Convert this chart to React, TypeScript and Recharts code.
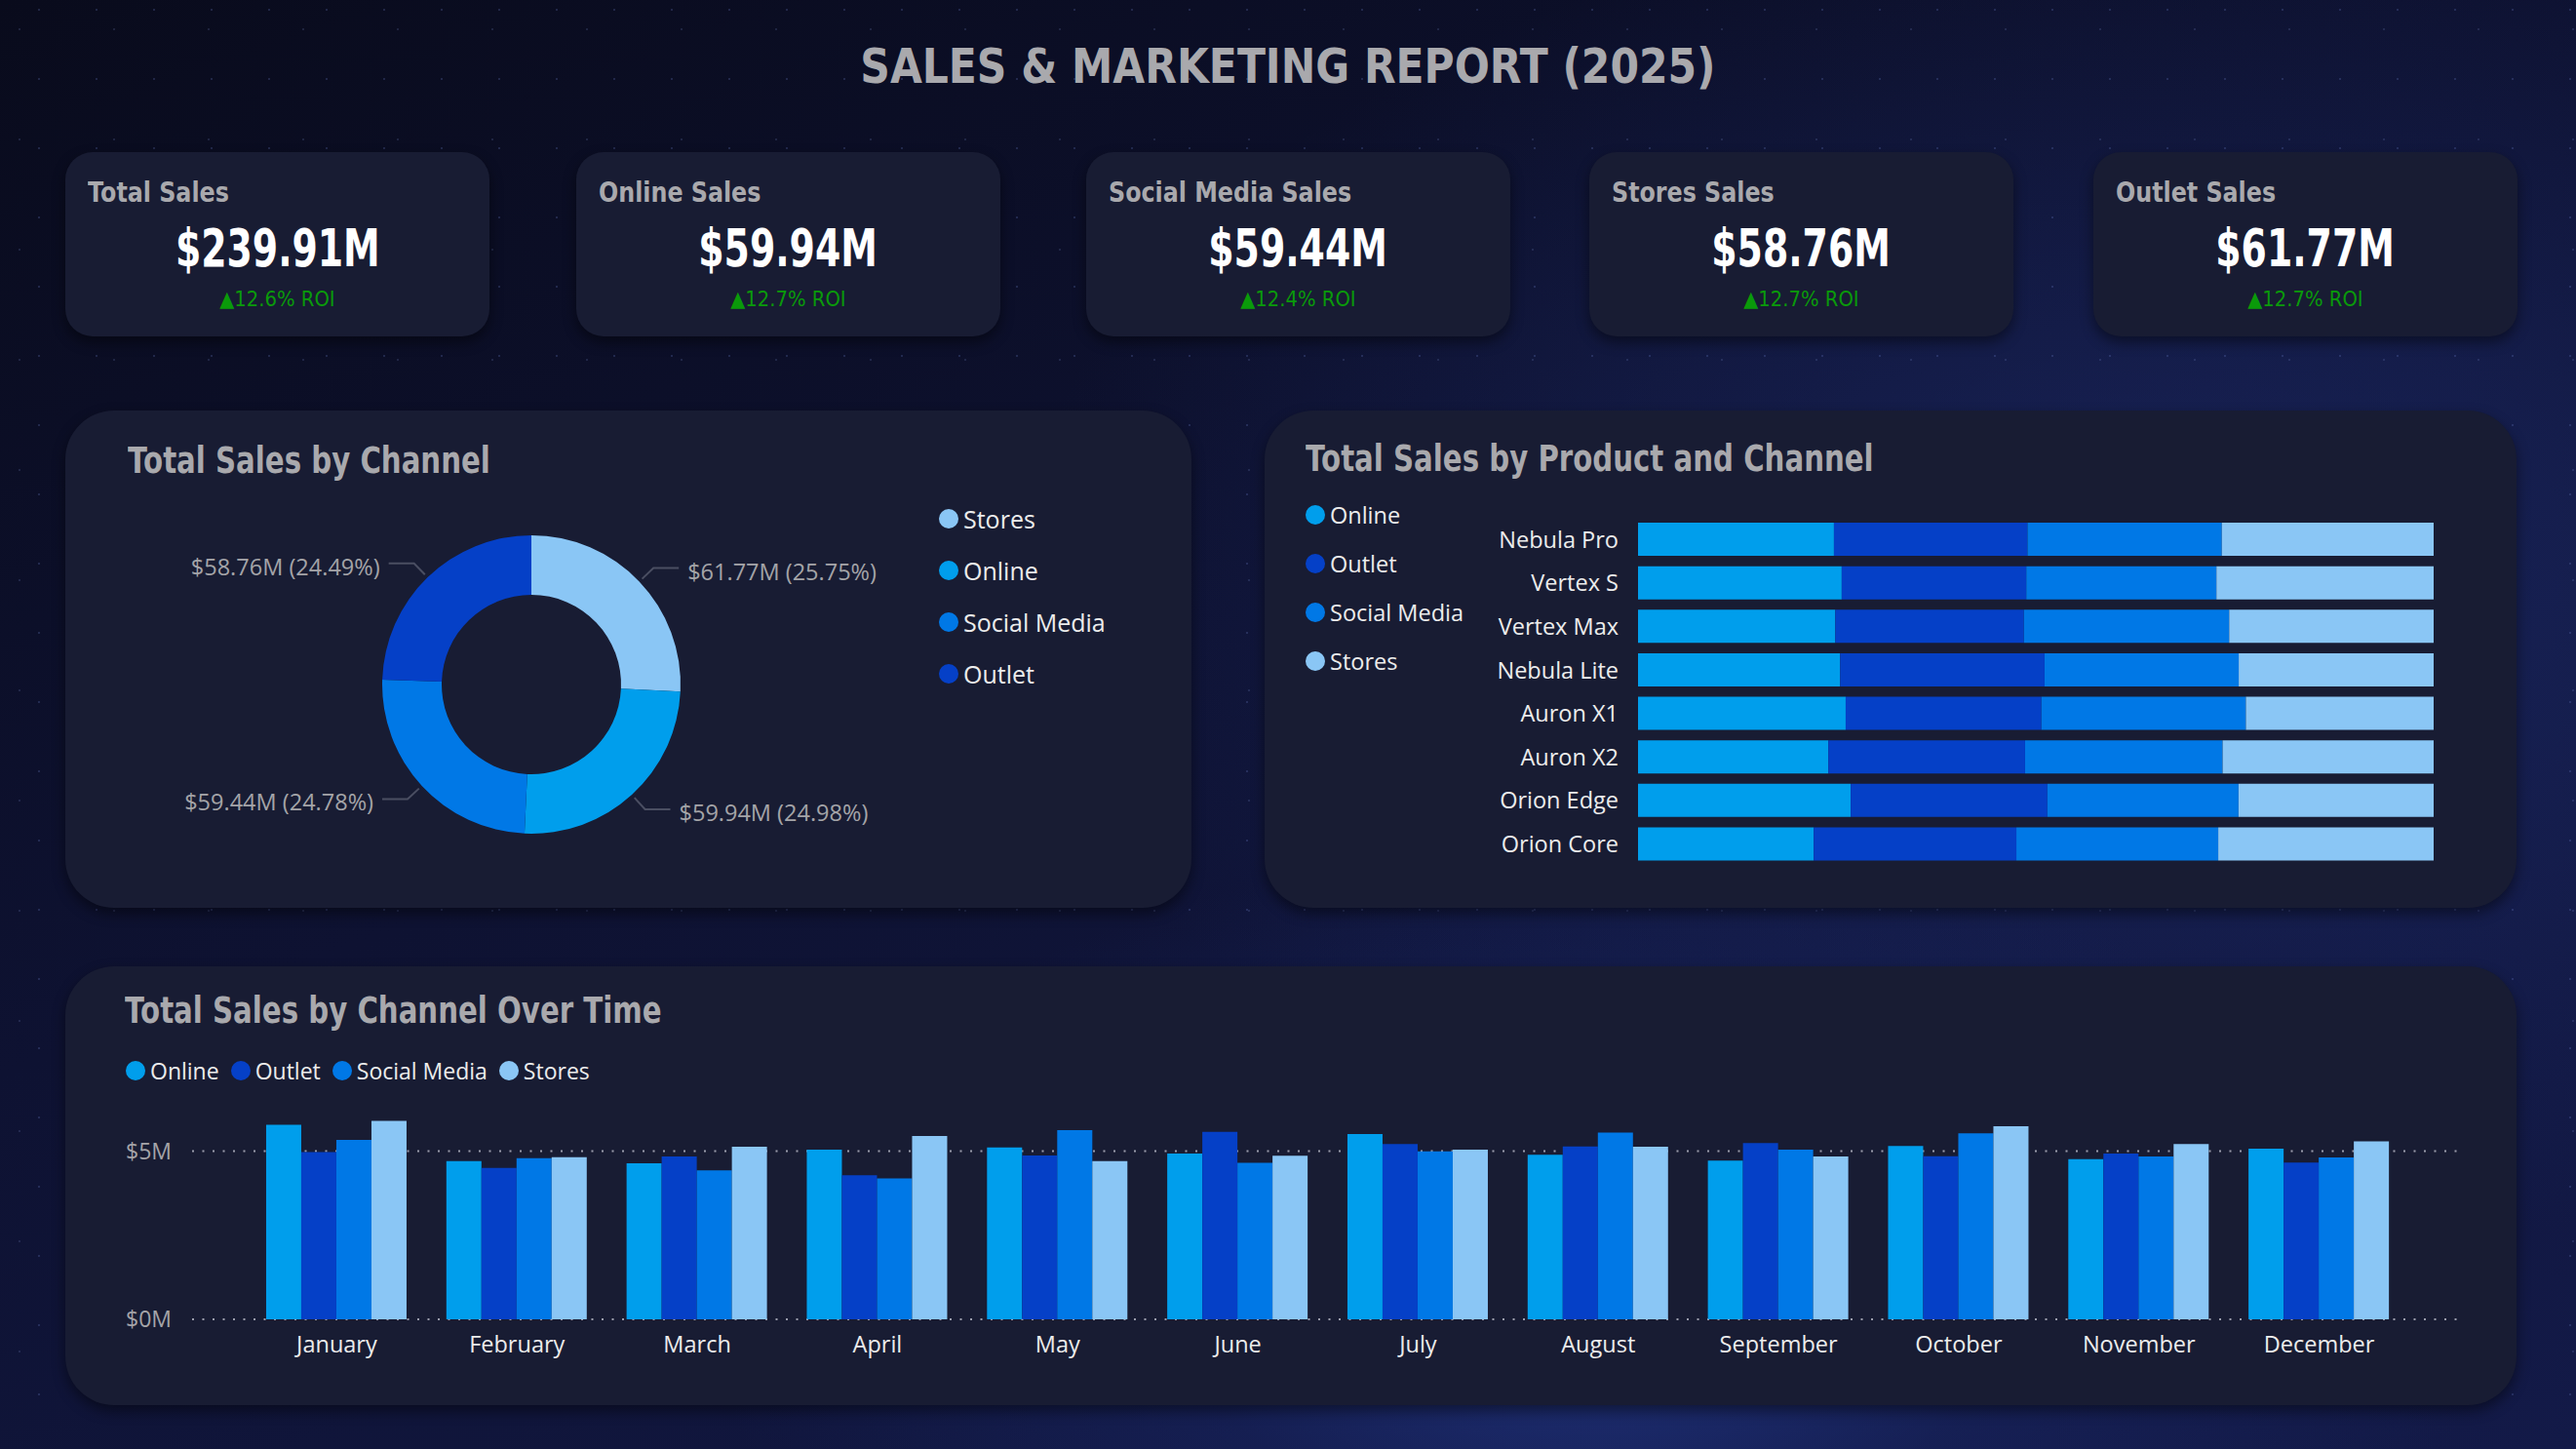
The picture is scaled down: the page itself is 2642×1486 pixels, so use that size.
import type { ReactNode } from 'react';
import { PieChart, Pie, Cell, BarChart, Bar, XAxis, YAxis, CartesianGrid } from 'recharts';

const HEAD_FONT = "'DejaVu Sans', Roboto, sans-serif";
const BODY_FONT = "'Open Sans', 'Noto Sans', sans-serif";

const PANEL = '#181c33';
const HEAD_GRAY = '#a9a9ad';

// channel palette
const COLORS: Record<string, string> = {
  Online: '#009eec',
  Outlet: '#0540c7',
  'Social Media': '#0078e6',
  Stores: '#8ac6f5',
};

// KPI cards
const kpiTitles = ['Total Sales', 'Online Sales', 'Social Media Sales', 'Stores Sales', 'Outlet Sales'];
const kpiValues = ['$239.91M', '$59.94M', '$59.44M', '$58.76M', '$61.77M'];
const kpiRoi = ['12.6%', '12.7%', '12.4%', '12.7%', '12.7%'];
const kpiLeft = [67, 591, 1114, 1630, 2147];

// donut ($M)
const donutChannels = ['Stores', 'Online', 'Social Media', 'Outlet'];
const donutValues = [61.77, 59.94, 59.44, 58.76];

// product mix (share of product sales, %)
const products = ['Nebula Pro', 'Vertex S', 'Vertex Max', 'Nebula Lite', 'Auron X1', 'Auron X2', 'Orion Edge', 'Orion Core'];
const productOnline = [24.6, 25.6, 24.8, 25.4, 26.1, 23.9, 26.7, 22.1];
const productOutlet = [24.3, 23.2, 23.7, 25.7, 24.6, 24.7, 24.7, 25.5];
const productSocial = [24.4, 23.9, 25.8, 24.4, 25.7, 24.8, 24.0, 25.4];
const productStores = [26.6, 27.3, 25.7, 24.5, 23.6, 26.5, 24.5, 27.1];
const channelOrder = ['Online', 'Outlet', 'Social Media', 'Stores'];

// monthly sales ($M)
const months = ['January', 'February', 'March', 'April', 'May', 'June', 'July', 'August', 'September', 'October', 'November', 'December'];
const monthOnline = [5.78, 4.70, 4.64, 5.04, 5.11, 4.93, 5.51, 4.89, 4.72, 5.15, 4.76, 5.07];
const monthOutlet = [4.97, 4.50, 4.84, 4.28, 4.87, 5.57, 5.21, 5.14, 5.24, 4.85, 4.93, 4.66];
const monthSocial = [5.33, 4.79, 4.43, 4.19, 5.62, 4.65, 4.99, 5.55, 5.04, 5.53, 4.84, 4.81];
const monthStores = [5.90, 4.82, 5.13, 5.45, 4.70, 4.86, 5.04, 5.13, 4.84, 5.74, 5.21, 5.29];
const yTicks = [0, 5];

const donutData = donutChannels.map((name, i) => ({ name, value: donutValues[i] }));
const productData = products.map((product, i) => ({
  product,
  Online: productOnline[i],
  Outlet: productOutlet[i],
  'Social Media': productSocial[i],
  Stores: productStores[i],
}));
const monthData = months.map((month, i) => ({
  month,
  Online: monthOnline[i],
  Outlet: monthOutlet[i],
  'Social Media': monthSocial[i],
  Stores: monthStores[i],
}));

const RADIAN = Math.PI / 180;

function DonutLabel(props: any) {
  const { cx, cy, midAngle, outerRadius, value, percent } = props;
  const cos = Math.cos(-midAngle * RADIAN);
  const sin = Math.sin(-midAngle * RADIAN);
  const sx = cx + (outerRadius + 4) * cos;
  const sy = cy + (outerRadius + 4) * sin;
  const mx = cx + (outerRadius + 20) * cos;
  const my = cy + (outerRadius + 20) * sin;
  const dir = cos >= 0 ? 1 : -1;
  const ex = mx + dir * 26;
  return (
    <g>
      <polyline points={`${sx},${sy} ${mx},${my} ${ex},${my}`} stroke="#4a4e62" strokeWidth={2} fill="none" />
      <text
        x={ex + dir * 9}
        y={my + 3}
        textAnchor={dir > 0 ? 'start' : 'end'}
        dominantBaseline="central"
        fill="#a4a4a8"
        fontSize={23.5}
        fontFamily={BODY_FONT}
      >
        {`$${value.toFixed(2)}M (${(percent * 100).toFixed(2)}%)`}
      </text>
    </g>
  );
}

// the reference uses a condensed DIN-like face; squeeze DejaVu to match
function Squeeze({ s, origin, children }: { s: number; origin: string; children: ReactNode }) {
  return <span style={{ display: 'inline-block', transform: `scaleX(${s})`, transformOrigin: origin, whiteSpace: 'nowrap' }}>{children}</span>;
}

function Dot({ color }: { color: string }) {
  return <span style={{ display: 'inline-block', width: 20, height: 20, borderRadius: 10, background: color, marginRight: 5 }} />;
}

function KpiCard({ i }: { i: number }) {
  return (
    <div
      style={{
        position: 'absolute',
        left: kpiLeft[i],
        top: 156,
        width: 435,
        height: 189,
        background: PANEL,
        borderRadius: 28,
        boxShadow: '0 6px 14px rgba(0,0,0,0.45)',
      }}
    >
      <div style={{ position: 'absolute', left: 23, top: 27, fontFamily: HEAD_FONT, fontWeight: 700, fontSize: 29, lineHeight: 1, color: HEAD_GRAY }}>
        <Squeeze s={0.82} origin="left center">{kpiTitles[i]}</Squeeze>
      </div>
      <div style={{ position: 'absolute', left: 0, width: 435, textAlign: 'center', top: 72, fontFamily: HEAD_FONT, fontWeight: 700, fontSize: 54, lineHeight: 1, color: '#ffffff' }}>
        <Squeeze s={0.7} origin="center center">{kpiValues[i]}</Squeeze>
      </div>
      <div style={{ position: 'absolute', left: 0, width: 435, textAlign: 'center', top: 140, fontFamily: HEAD_FONT, fontSize: 22, lineHeight: 1, color: '#0a9a0a' }}>
        <Squeeze s={0.89} origin="center center">{`▲${kpiRoi[i]} ROI`}</Squeeze>
      </div>
    </div>
  );
}

const panelTitle = (text: string, left: number, top: number) => (
  <div style={{ position: 'absolute', left, top, fontFamily: HEAD_FONT, fontWeight: 700, fontSize: 37, lineHeight: 1, color: HEAD_GRAY }}>
    <Squeeze s={0.79} origin="left center">{text}</Squeeze>
  </div>
);

export default function App() {
  return (
    <div
      style={{
        position: 'absolute',
        left: 0,
        top: 0,
        width: 2642,
        height: 1486,
        overflow: 'hidden',
        fontFamily: BODY_FONT,
        background:
          'radial-gradient(1px 1px at 20px 30px, rgba(140,160,230,0.55), transparent), ' +
          'radial-gradient(1px 1px at 70px 90px, rgba(140,160,230,0.45), transparent), ' +
          'radial-gradient(1.5px 1.5px at 40px 10px, rgba(120,140,220,0.4), transparent), ' +
          'radial-gradient(ellipse 900px 500px at 62% 92%, #1e2f75 0%, rgba(25,38,100,0.5) 45%, transparent 100%), ' +
          'radial-gradient(ellipse 1200px 700px at 85% 40%, rgba(30,45,110,0.6) 0%, transparent 100%), ' +
          'linear-gradient(160deg, #090b1c 0%, #0e1232 45%, #131a48 100%)',
        backgroundSize: '97px 113px, 131px 89px, 59px 71px, auto, auto, auto',
      }}
    >
      <div style={{ position: 'absolute', left: 0, width: 2642, top: 44, textAlign: 'center', fontFamily: HEAD_FONT, fontWeight: 700, fontSize: 49, lineHeight: 1, color: HEAD_GRAY }}>
        <Squeeze s={0.867} origin="center center">SALES &amp; MARKETING REPORT (2025)</Squeeze>
      </div>

      {kpiTitles.map((_, i) => (
        <KpiCard key={i} i={i} />
      ))}

      {/* Total Sales by Channel */}
      <div style={{ position: 'absolute', left: 67, top: 421, width: 1155, height: 510, background: PANEL, borderRadius: 50, boxShadow: '0 6px 14px rgba(0,0,0,0.45)' }}>
        {panelTitle('Total Sales by Channel', 64, 33)}
        <div style={{ position: 'absolute', left: 0, top: 0 }}>
          <PieChart width={1155} height={510} margin={{ top: 0, right: 0, bottom: 0, left: 0 }}>
            <Pie
              data={donutData}
              dataKey="value"
              nameKey="name"
              cx={478}
              cy={281}
              innerRadius={92}
              outerRadius={153}
              startAngle={90}
              endAngle={-270}
              stroke="none"
              label={DonutLabel}
              labelLine={false}
              isAnimationActive={false}
            >
              {donutData.map((d) => (
                <Cell key={d.name} fill={COLORS[d.name]} />
              ))}
            </Pie>
          </PieChart>
        </div>
        {donutChannels.map((c, i) => (
          <div key={c} style={{ position: 'absolute', left: 896, top: 97 + i * 53, height: 28, display: 'flex', alignItems: 'center', fontSize: 25, color: '#ececec' }}>
            <Dot color={COLORS[c]} />
            {c}
          </div>
        ))}
      </div>

      {/* Total Sales by Product and Channel */}
      <div style={{ position: 'absolute', left: 1297, top: 421, width: 1284, height: 510, background: PANEL, borderRadius: 50, boxShadow: '0 6px 14px rgba(0,0,0,0.45)' }}>
        {panelTitle('Total Sales by Product and Channel', 42, 31)}
        {channelOrder.map((c, i) => (
          <div key={c} style={{ position: 'absolute', left: 42, top: 93 + i * 50, height: 28, display: 'flex', alignItems: 'center', fontSize: 23.5, color: '#ececec' }}>
            <Dot color={COLORS[c]} />
            {c}
          </div>
        ))}
        <div style={{ position: 'absolute', left: 0, top: 0 }}>
          <BarChart
            width={1284}
            height={510}
            data={productData}
            layout="vertical"
            stackOffset="expand"
            barCategoryGap="11.4%"
            margin={{ top: 110, right: 85, bottom: 43, left: 203 }}
          >
            <XAxis type="number" hide />
            <YAxis
              type="category"
              dataKey="product"
              width={180}
              axisLine={false}
              tickLine={false}
              tickSize={0}
              tickMargin={20}
              tick={{ fill: '#ececec', fontSize: 23.5, fontFamily: BODY_FONT }}
            />
            {channelOrder.map((c) => (
              <Bar key={c} dataKey={c} stackId="p" fill={COLORS[c]} isAnimationActive={false} />
            ))}
          </BarChart>
        </div>
      </div>

      {/* Total Sales by Channel Over Time */}
      <div style={{ position: 'absolute', left: 67, top: 991, width: 2514, height: 450, background: PANEL, borderRadius: 50, boxShadow: '0 6px 14px rgba(0,0,0,0.45)' }}>
        {panelTitle('Total Sales by Channel Over Time', 61, 27)}
        <div style={{ position: 'absolute', left: 62, top: 93, display: 'flex', alignItems: 'center', height: 28, fontSize: 23, color: '#ececec' }}>
          {channelOrder.map((c) => (
            <span key={c} style={{ display: 'flex', alignItems: 'center', marginRight: 12 }}>
              <Dot color={COLORS[c]} />
              {c}
            </span>
          ))}
        </div>
        <div style={{ position: 'absolute', left: 0, top: 0 }}>
          <BarChart
            width={2514}
            height={450}
            data={monthData}
            barCategoryGap="10.8%"
            barGap={0}
            margin={{ top: 155, right: 58, bottom: 58, left: 50 }}
          >
            <CartesianGrid vertical={false} horizontalValues={yTicks} stroke="#9a9cab" strokeDasharray="2 8.5" strokeWidth={2} />
            <XAxis
              dataKey="month"
              axisLine={false}
              tickLine={false}
              tickSize={0}
              tickMargin={17}
              padding={{ left: 56, right: 52 }}
              height={30}
              tick={{ fill: '#ececec', fontSize: 23.5, fontFamily: BODY_FONT }}
            />
            <YAxis
              domain={[0, 6]}
              ticks={yTicks}
              width={80}
              axisLine={false}
              tickLine={false}
              tickSize={0}
              tickMargin={21}
              tickFormatter={(v: number) => `$${v}M`}
              tick={{ fill: '#a4a4a8', fontSize: 23, fontFamily: BODY_FONT }}
            />
            {channelOrder.map((c) => (
              <Bar key={c} dataKey={c} fill={COLORS[c]} isAnimationActive={false} />
            ))}
          </BarChart>
        </div>
      </div>
    </div>
  );
}
